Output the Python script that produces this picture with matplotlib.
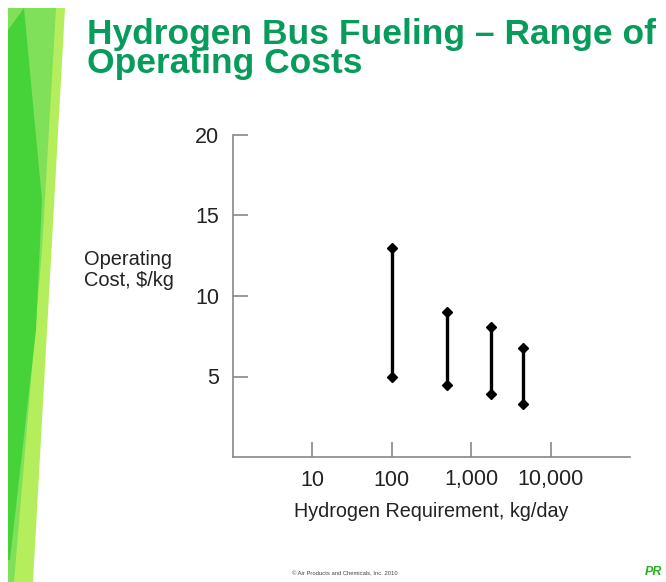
import matplotlib
matplotlib.use("Agg")
import matplotlib.pyplot as plt
from matplotlib.patches import Polygon
import numpy as np

plt.rcParams['font.family'] = ['Liberation Sans', 'DejaVu Sans']

# Data
requirement_kg_day = [100, 500, 1800, 4500]
cost_high = [13.0, 9.0, 8.1, 6.8]
cost_low = [5.0, 4.5, 3.9, 3.3]
x_ticks = [10, 100, 1000, 10000]
x_tick_labels = ["10", "100", "1,000", "10,000"]
y_ticks = [5, 10, 15, 20]

W, H = 666, 582
fig = plt.figure(figsize=(W/100, H/100), dpi=100)
fig.patch.set_facecolor('white')

def fp(pts):
    return [(x / W, 1 - y / H) for x, y in pts]

# decorative stripe
for pts, col in [
    ([(8, 8), (65, 8), (33, 582), (8, 582)], '#b5ee5c'),
    ([(8, 8), (56, 8), (42, 250), (14, 582), (8, 582)], '#80e05a'),
    ([(8, 30), (24, 8), (42, 200), (36, 330), (10, 560), (8, 560)], '#46d33a'),
]:
    fig.patches.append(Polygon(fp(pts), closed=True, facecolor=col, edgecolor='none',
                               transform=fig.transFigure, zorder=0))

green = '#089c5c'
fig.text(87/W, 1 - 18/H, "Hydrogen Bus Fueling – Range of\nOperating Costs", color=green,
         fontsize=25.5, fontweight='bold', ha='left', va='top', linespacing=0.84)

ax = fig.add_axes([233/W, 1 - 457/H, (630 - 233)/W, (457 - 135)/H])
ax.set_xscale('log')
ax.set_xlim(1, 1e5)
ax.set_ylim(0, 20)
for s in ['top', 'right']:
    ax.spines[s].set_visible(False)
for s in ['left', 'bottom']:
    ax.spines[s].set_color('#888888')
    ax.spines[s].set_linewidth(1.2)

ax.set_xticks(x_ticks)
ax.set_xticklabels(x_tick_labels)
ax.xaxis.set_minor_locator(matplotlib.ticker.NullLocator())
ax.set_yticks(y_ticks)
ax.set_yticklabels([str(v) for v in y_ticks])
ax.tick_params(axis='both', direction='in', length=11, width=1.2, color='#888888',
               labelsize=15.5, labelcolor='#222222')
ax.tick_params(axis='y', pad=10)
ax.tick_params(axis='x', pad=9)

for x, hi, lo in zip(requirement_kg_day, cost_high, cost_low):
    ax.plot([x, x], [lo, hi], color='black', lw=2.4, solid_capstyle='butt', zorder=3)
    ax.plot([x, x], [lo, hi], linestyle='none', marker='D', markersize=5,
            color='black', zorder=4)

ax.set_xlabel("Hydrogen Requirement, kg/day", fontsize=14.2, color='#222222', labelpad=8)
fig.text(84/W, 1 - 270/H, "Operating\nCost, $/kg", fontsize=14.4, color='#222222',
         ha='left', va='center', linespacing=1.1)

fig.text(292/W, 1 - 574/H, "© Air Products and Chemicals, Inc. 2010", fontsize=4.2,
         color='#444444', ha='left', va='center')
fig.text(645/W, 1 - 572/H, "PR", fontsize=9, color='#22b022', fontweight='bold',
         style='italic', ha='left', va='center')

fig.savefig('out.png', dpi=100, facecolor='white')
